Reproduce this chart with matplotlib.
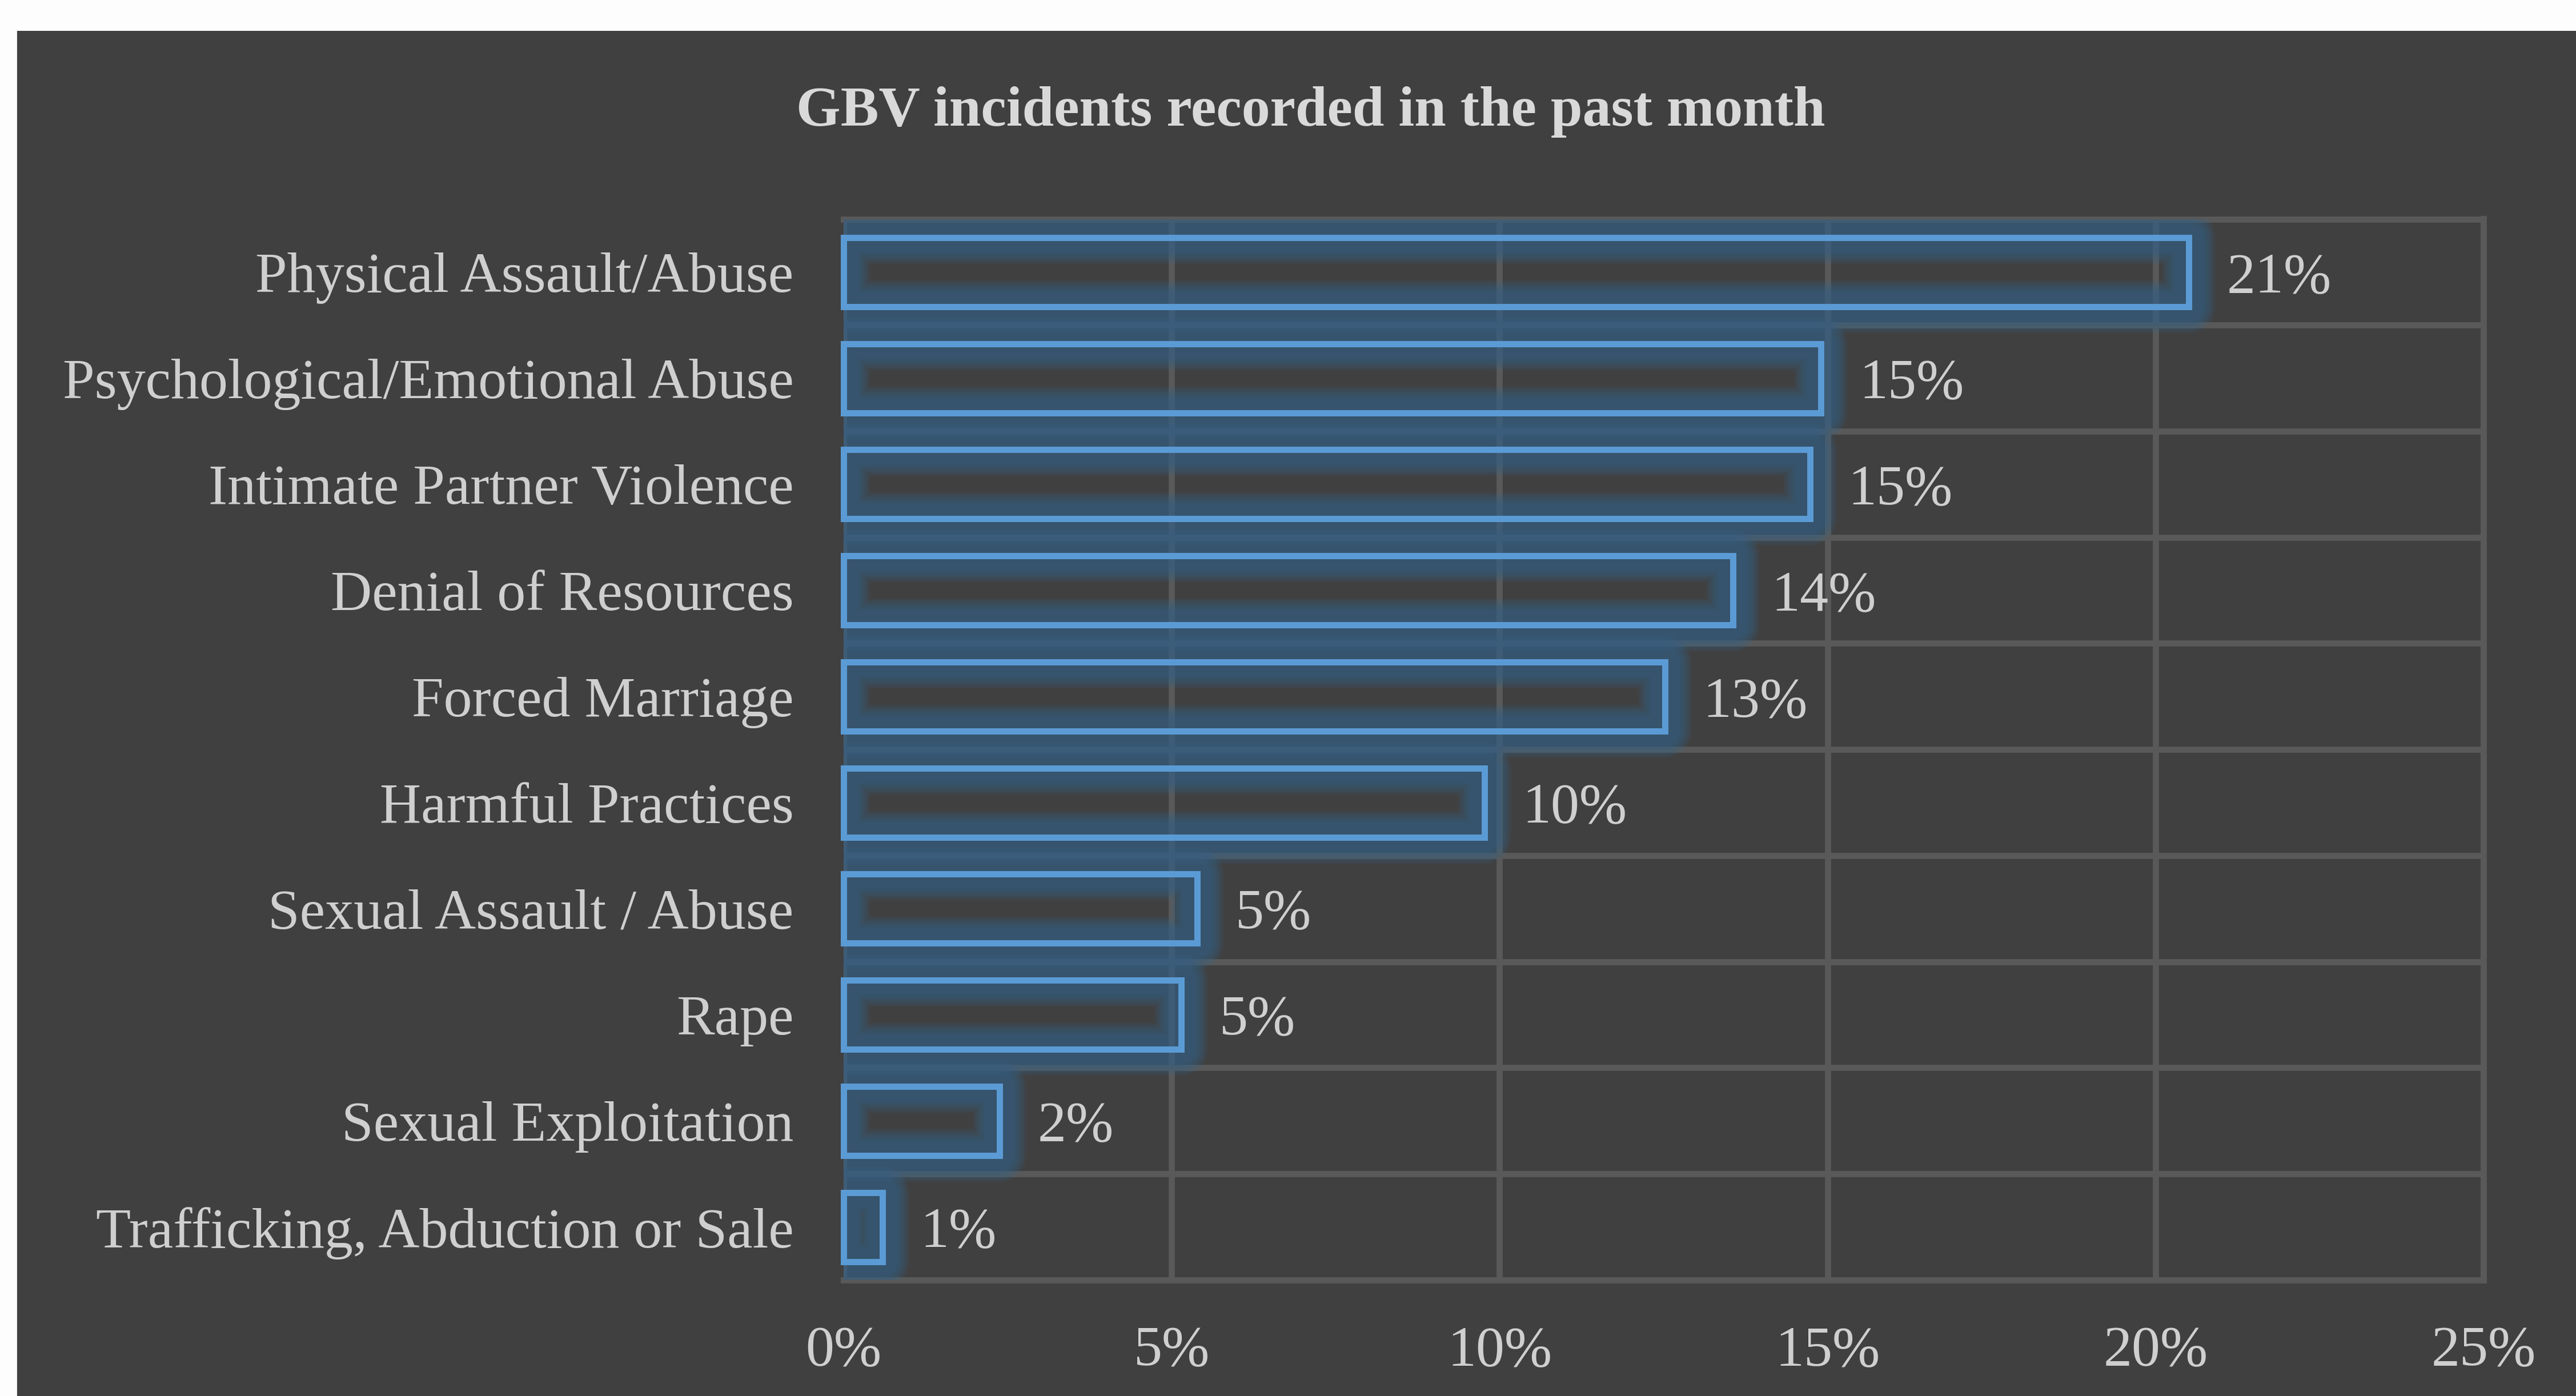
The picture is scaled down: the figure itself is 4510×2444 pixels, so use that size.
import numpy as np
import matplotlib
matplotlib.use("Agg")
import matplotlib.pyplot as plt
from matplotlib.patches import Rectangle

plt.rcParams['font.family'] = ['Liberation Serif', 'DejaVu Serif']

title = "GBV incidents recorded in the past month"
categories = [
    "Physical Assault/Abuse",
    "Psychological/Emotional Abuse",
    "Intimate Partner Violence",
    "Denial of Resources",
    "Forced Marriage",
    "Harmful Practices",
    "Sexual Assault / Abuse",
    "Rape",
    "Sexual Exploitation",
    "Trafficking, Abduction or Sale",
]
# share of incidents, in percent
values = [20.51, 14.90, 14.73, 13.56, 12.52, 9.77, 5.39, 5.15, 2.38, 0.59]
xticks = [0, 5, 10, 15, 20, 25]

bg = '#404040'
grid_col = '#595959'
text_col = '#cfcfcf'
title_col = '#d9d9d9'
bar_col = '#5b9bd5'
glow_col = '#36688f'

W, H = 4510, 2444
fig = plt.figure(figsize=(W / 100, H / 100), dpi=100, facecolor='#fdfdfd')
fig.add_artist(Rectangle((30 / W, 0), 1, 1 - 54 / H, transform=fig.transFigure,
                         facecolor=bg, edgecolor='none', zorder=-1))

ax = fig.add_axes([1477 / W, (H - 2241) / H, (4348 - 1477) / W, (2241 - 383.5) / H])
ax.set_facecolor(bg)

y = np.arange(len(categories))
bar_h = 0.651

# soft glow: stacked translucent strokes of decreasing width around each bar
n_glow = 12
a_layer = 1 - 0.38 ** (1 / n_glow)
for w in np.linspace(50, 94, n_glow) * 0.72:
    ax.barh(y, values, height=bar_h, color='none', edgecolor=glow_col,
            linewidth=w, alpha=a_layer, joinstyle='round', zorder=2)

# crisp outline on top
ax.barh(y, values, height=bar_h, color='none', edgecolor=bar_col,
        linewidth=7.9, joinstyle='miter', zorder=3, clip_on=False)

for yi, v in zip(y, values):
    ax.annotate(f"{v:.0f}%", xy=(v, yi), xytext=(48, 0), textcoords='offset points',
                ha='left', va='center_baseline', fontsize=72, color=text_col)

ax.set_xlim(0, 25)
ax.set_xticks(xticks)
ax.set_xticklabels([f"{t}%" for t in xticks])
ax.set_ylim(len(categories) - 0.5, -0.5)
ax.set_yticks(y)
ax.set_yticklabels(categories)
ax.set_yticks(np.arange(-0.5, len(categories), 1), minor=True)

ax.tick_params(axis='both', which='both', length=0, labelsize=72, labelcolor=text_col)
ax.tick_params(axis='x', pad=58)
ax.tick_params(axis='y', pad=63)

ax.set_axisbelow(True)
ax.grid(axis='x', which='major', color=grid_col, linewidth=7.7)
ax.grid(axis='y', which='minor', color=grid_col, linewidth=7.7)
for s in ax.spines.values():
    s.set_color(grid_col)
    s.set_linewidth(7.7)
    s.set_zorder(0.6)
ax.spines['left'].set_visible(False)

fig.text(2295 / W, 1 - 220 / H, title, ha='center', va='baseline',
         fontsize=72, fontweight='bold', color=title_col)

fig.savefig('out.png', dpi=100, facecolor=fig.get_facecolor())
